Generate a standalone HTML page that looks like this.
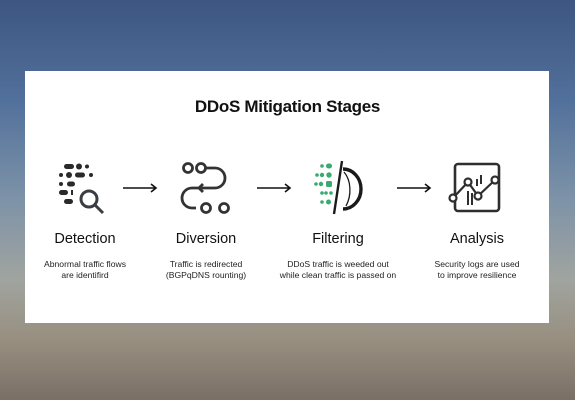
<!DOCTYPE html>
<html><head><meta charset="utf-8"><style>
html,body{margin:0;padding:0}
body{width:575px;height:400px;overflow:hidden;position:relative;font-family:"Liberation Sans",sans-serif;
background:linear-gradient(180deg,#3d5682 0%,#51709b 25%,#7e93a8 50%,#a0a49f 70%,#988f80 85%,#7a6f66 100%);}
.card{position:absolute;left:25px;top:71px;width:524px;height:252px;background:#fff}
.t{position:absolute;text-align:center;color:#111;white-space:nowrap}
.title{left:0;width:575px;top:97px;font-size:17px;font-weight:bold;letter-spacing:-0.3px}
.lab{top:231px;font-size:14.5px;width:140px;margin-left:-70px}
.desc{top:259px;font-size:8.6px;line-height:11px;width:160px;margin-left:-80px;color:#222}
svg{position:absolute;left:0;top:0}
</style></head><body>
<div class="card"></div>
<div class="t title">DDoS Mitigation Stages</div>
<div class="t lab" style="left:85px">Detection</div>
<div class="t lab" style="left:206px">Diversion</div>
<div class="t lab" style="left:338px">Filtering</div>
<div class="t lab" style="left:477px">Analysis</div>
<div class="t desc" style="left:85px">Abnormal traffic flows<br>are identifird</div>
<div class="t desc" style="left:206px">Traffic is redirected<br>(BGPqDNS rounting)</div>
<div class="t desc" style="left:338px">DDoS traffic is weeded out<br>while clean traffic is passed on</div>
<div class="t desc" style="left:477px">Security logs are used<br>to improve resilience</div>
<svg width="575" height="400" viewBox="0 0 575 400">
<g stroke="#111" stroke-width="1.6" fill="none">
<path d="M123 188H156M151 184L156 188L151 192"/>
<path d="M257 188H290M285 184L290 188L285 192"/>
<path d="M397 188H430M425 184L430 188L425 192"/>
</g>
<g fill="#2a2a2a">
<rect x="64" y="164" width="10" height="5" rx="2.5"/><circle cx="79" cy="166.5" r="3"/><circle cx="87" cy="166.5" r="2"/>
<circle cx="61" cy="175" r="2"/><circle cx="69" cy="175" r="3"/><rect x="75" y="172.5" width="10" height="5" rx="2.5"/><circle cx="91" cy="175" r="2"/>
<circle cx="61" cy="184" r="2"/><rect x="67" y="181.5" width="8" height="5" rx="2.5"/>
<rect x="59" y="190" width="9" height="5" rx="2.5"/><rect x="71" y="190" width="2" height="5"/>
<rect x="64" y="199" width="9" height="5" rx="2.5"/>
</g>
<g stroke="#3a3d42" stroke-width="3" fill="none"><circle cx="89" cy="199" r="8"/><path d="M95 205L103 213"/></g>
<g stroke="#333" stroke-width="2.8" fill="none">
<circle cx="188" cy="168" r="4.5"/><circle cx="201" cy="168" r="4.5"/>
<path d="M206 168H215A10 10 0 0 1 215 188H192A10 10 0 0 0 192 208H196"/>
<path d="M203 184L199 188L203 192"/>
<circle cx="206" cy="208" r="4.5"/><circle cx="224" cy="208" r="4.5"/>
</g>
<g fill="#3aaa70">
<circle cx="322" cy="166" r="1.8"/><rect x="326" y="163.5" width="6" height="5" rx="2.5"/>
<circle cx="317" cy="175" r="1.8"/><circle cx="322" cy="175" r="2.2"/><circle cx="329" cy="175" r="2.7"/>
<circle cx="316" cy="184" r="1.8"/><circle cx="321" cy="184" r="2.2"/><rect x="326" y="181" width="6" height="6" rx="1.5"/>
<circle cx="322" cy="193" r="1.8"/><circle cx="326" cy="193" r="1.8"/><circle cx="331" cy="193" r="1.8"/>
<circle cx="322" cy="202" r="1.8"/><rect x="326" y="199.5" width="5" height="5" rx="2.5"/>
</g>
<g stroke="#1a1a1a" fill="none">
<path d="M342 161L334 214" stroke-width="2.4"/>
<path d="M343 169A18 20 0 0 1 343 209" stroke-width="3.4"/>
<path d="M344 172C351 180 352 195 346 206" stroke-width="1.3"/>
</g>
<g stroke="#2e2e2e" fill="none">
<rect x="455" y="164" width="44" height="47" rx="3" stroke-width="2.6"/>
<path d="M453 198L468 182L478 196L495 180" stroke-width="2.2"/>
<circle cx="468" cy="182" r="3.5" stroke-width="2.2" fill="#fff"/><circle cx="453" cy="198" r="3.5" stroke-width="2.2" fill="#fff"/>
<circle cx="478" cy="196" r="3.5" stroke-width="2.2" fill="#fff"/><circle cx="495" cy="180" r="3.5" stroke-width="2.2" fill="#fff"/>
<path d="M468 191V205M472 193V205M477 179V186M481 175V184" stroke-width="2"/>
</g>
</svg>
</body></html>
